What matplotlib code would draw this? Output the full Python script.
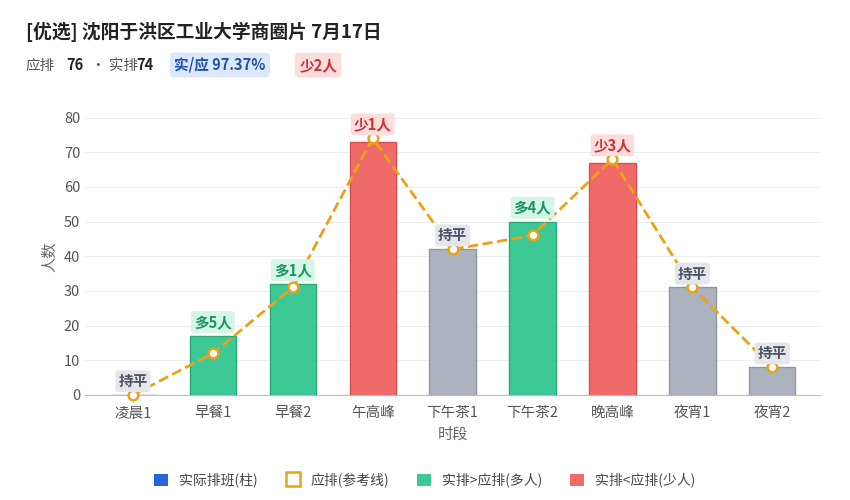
import matplotlib.pyplot as plt
from matplotlib.patches import Patch
from matplotlib.lines import Line2D

plt.rcParams['font.family'] = ['Noto Sans CJK SC', 'DejaVu Sans']

slots = ['凌晨1', '早餐1', '早餐2', '午高峰', '下午茶1', '下午茶2', '晚高峰', '夜宵1', '夜宵2']
actual = [0, 17, 32, 73, 42, 50, 67, 31, 8]
expected = [0, 12, 31, 74, 42, 46, 68, 31, 8]
diff_labels = ['持平', '多5人', '多1人', '少1人', '持平', '多4人', '少3人', '持平', '持平']

GREEN, RED, GREY = '#3cc995', '#f16a6a', '#adb2bf'

fig = plt.figure(figsize=(8.5, 5), dpi=100)
ax = fig.add_axes([0.1, 0.21, 0.865, 0.555])

for i, (a, e, txt) in enumerate(zip(actual, expected, diff_labels)):
    if txt.startswith('多'):
        c, ec, tc, bg = GREEN, '#2aa877', '#16965f', '#d5f5e6'
    elif txt.startswith('少'):
        c, ec, tc, bg = RED, '#d94f4f', '#c93333', '#fddcdc'
    else:
        c, ec, tc, bg = GREY, '#9096a3', '#4b5160', '#e4e6eb'
    ax.bar(i, a, width=0.58, color=c, edgecolor=ec, linewidth=1, zorder=2)
    ax.text(i, max(a, e) + 4, txt, ha='center', va='center', fontsize=10.5,
            fontweight='bold', color=tc, zorder=5,
            bbox=dict(boxstyle='round,pad=0.2', fc=bg, ec='none'))

ax.plot(range(len(slots)), expected, ls='--', color='#e8a317', lw=2, zorder=3, clip_on=False)
ax.plot(range(len(slots)), expected, ls='none', marker='o', ms=7, mfc='white',
        mec='#e8a317', mew=1.8, zorder=4, clip_on=False)

ax.set_ylim(0, 80)
ax.set_xlim(-0.6, len(slots) - 0.4)
ax.set_yticks(range(0, 81, 10))
ax.set_xticks(range(len(slots)))
ax.set_xticklabels(slots)
ax.tick_params(colors='#555', labelsize=10.5, length=0)
ax.tick_params(axis='x', pad=8)
ax.grid(axis='y', color='#eeeeee', zorder=0)
for s in ['top', 'right', 'left']:
    ax.spines[s].set_visible(False)
ax.spines['bottom'].set_color('#bbbbbb')
ax.set_xlabel('时段', color='#666', fontsize=11)
ax.set_ylabel('人数', color='#666', fontsize=11)

fig.text(0.03, 0.925, '[优选] 沈阳于洪区工业大学商圈片 7月17日', fontsize=13.5,
         fontweight='bold', color='#222')
fig.text(0.03, 0.86, '应排', fontsize=10.5, color='#555')
fig.text(0.078, 0.86, '76', fontsize=10.5, fontweight='bold', color='#222')
fig.text(0.107, 0.86, '· 实排', fontsize=10.5, color='#555')
fig.text(0.16, 0.86, '74', fontsize=10.5, fontweight='bold', color='#222')
fig.text(0.205, 0.86, '实/应 97.37%', fontsize=10.5, fontweight='bold', color='#1f4fa8',
         bbox=dict(boxstyle='round,pad=0.3', fc='#dbe7fb', ec='none'))
fig.text(0.352, 0.86, '少2人', fontsize=10.5, fontweight='bold', color='#c93333',
         bbox=dict(boxstyle='round,pad=0.3', fc='#fddcdc', ec='none'))

handles = [Patch(fc='#2b63d9'), Line2D([], [], ls='none', marker='s', ms=10, mfc='white',
           mec='#e8a317', mew=1.8), Patch(fc=GREEN), Patch(fc=RED)]
labels = ['实际排班(柱)', '应排(参考线)', '实排>应排(多人)', '实排<应排(少人)']
fig.legend(handles, labels, loc='lower center', bbox_to_anchor=(0.5, 0.0), ncol=4,
           frameon=False, fontsize=10, labelcolor='#444', handlelength=1, handleheight=1)

fig.savefig('out.png')
